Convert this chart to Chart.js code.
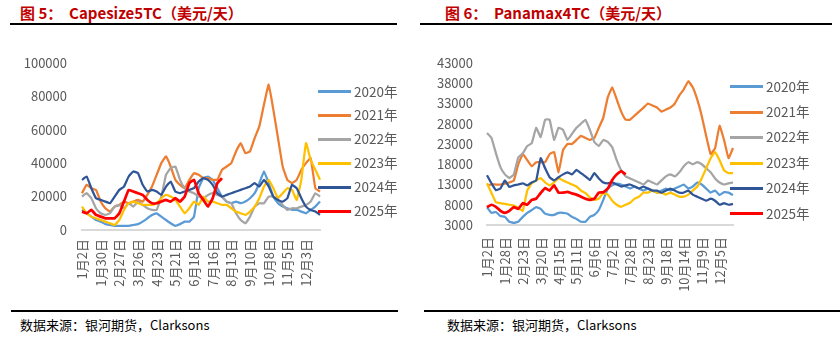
<!DOCTYPE html>
<html><head><meta charset="utf-8">
<script src="https://cdn.jsdelivr.net/npm/chart.js@4"></script>
<style>
body{margin:0;width:840px;height:337px;background:#fff;position:relative;overflow:hidden;font-family:"Noto Sans CJK SC","Noto Sans",sans-serif;}
.title{position:absolute;top:2px;font-size:15px;font-weight:bold;color:#C00000;white-space:pre;}
.rule{position:absolute;height:2px;background:#000;}
.src{position:absolute;top:315px;font-size:13px;color:#000;white-space:pre;}
.wrap{position:absolute;}
.lg{position:absolute;font-size:13.5px;color:#595959;white-space:nowrap;height:20px;line-height:20px;}
.lg span{display:inline-block;width:33px;height:3px;vertical-align:middle;margin-right:3px;position:relative;top:-1px;}
</style></head>
<body>
<div class="title" style="left:20px">图 5：  Capesize5TC（美元/天）</div>
<div class="rule" style="left:10px;width:387px;top:23px"></div>
<div class="title" style="left:445px">图 6：  Panamax4TC（美元/天）</div>
<div class="rule" style="left:420px;width:412px;top:23px"></div>
<div class="wrap" style="left:0;top:40px;width:324px;height:270px"><canvas id="c5"></canvas></div>
<div class="wrap" style="left:420px;top:40px;width:320px;height:270px"><canvas id="c6"></canvas></div>
<div id="lg5"></div><div id="lg6"></div>
<div class="rule" style="left:11px;width:387px;top:310px;height:1.5px"></div>
<div class="rule" style="left:424px;width:416px;top:310px;height:1.5px"></div>
<div class="src" style="left:20px">数据来源：银河期货，Clarksons</div>
<div class="src" style="left:447px">数据来源：银河期货，Clarksons</div>
<script>
const seriesNames = ['2020年','2021年','2022年','2023年','2024年','2025年'];
const seriesColors = ['#5B9BD5','#ED7D31','#A5A5A5','#FFC000','#2F5597','#FF0000'];

// Capesize 5TC
const ticks5 = ['1月2日','1月30日','2月27日','3月26日','4月23日','5月21日','6月18日','7月16日','8月13日','9月10日','10月8日','11月5日','12月3日'];
const cape2020 = [12000,10000,8000,6000,5000,3500,3000,2500,2500,2500,2500,3000,3500,5000,7000,9000,10000,8000,6000,4000,2500,3500,5000,5000,8000,25000,31000,32000,30000,25000,20000,17000,16000,17000,16000,17000,19000,22000,28000,35000,28000,20000,16000,14000,13000,12000,12000,11000,10000,12000,14000,17000];
const cape2021 = [22000,27000,25000,24000,17000,13000,11000,14000,15000,17000,16000,17000,18000,17000,21000,26000,33000,40000,44000,38000,30000,27000,25000,30000,34000,33000,31000,31000,30000,30000,36000,38000,40000,47000,52000,46000,47000,55000,62000,75000,87000,72000,55000,38000,30000,28000,30000,36000,40000,43000,25000,23000];
const cape2022 = [20000,22000,19000,13000,10000,9000,10000,14000,15000,13000,16000,14000,17000,15000,13000,12000,12000,20000,33000,37000,38000,30000,25000,23000,22000,20000,19000,21000,22000,21000,20000,17000,16000,10000,6000,4000,8000,14000,16000,16000,20000,20000,18000,15000,12000,13000,13000,14000,15000,17000,22000,20000];
const cape2023 = [14000,10000,8000,7000,6000,5000,4000,3000,6000,12000,16000,17000,16000,15000,15000,15000,16000,19000,21000,20000,18000,14000,10000,13000,17000,15000,20000,17000,17000,16000,15000,15000,13000,11000,10000,9000,11000,14000,19000,26000,30000,25000,19000,22000,25000,24000,18000,30000,52000,42000,36000,30000];
const cape2024 = [30000,32000,25000,19000,18000,17000,16000,20000,24000,26000,32000,35000,34000,27000,23000,24000,23000,21000,26000,29000,23000,22000,23000,24000,25000,29000,31000,30000,27000,22000,20000,21000,22000,23000,24000,25000,26000,28000,26000,30000,26000,20000,18000,17000,19000,27000,25000,19000,14000,12000,11000,9000];
const cape2025 = [11000,10000,12000,9000,8000,7000,7000,7000,10000,17000,24000,23000,22000,21000,18000,16000,16000,17000,18000,17000,19000,17000,20000,28000,30000,22000,18000,14000,19000,28000,31000];

// Panamax 4TC
const ticks6 = ['1月2日','1月28日','2月23日','3月20日','4月15日','5月11日','6月6日','7月2日','7月28日','8月23日','9月18日','10月14日','11月9日','12月5日'];
const pana2020 = [7400,6000,6200,5200,5000,3800,3500,3800,5000,6000,6700,7400,7000,5800,5500,5500,6000,6000,5800,5000,4500,3800,3800,5000,5500,6700,9200,12000,12800,13200,13000,12500,12000,12500,12000,11500,12000,11500,11000,11500,12000,11500,12000,12500,13000,12000,12500,13500,13000,12000,11000,11500,10400,11100,11000,10400];
const pana2021 = [12800,13000,13000,13000,13200,13500,14000,18000,20500,19000,17500,18500,18500,18500,20500,21000,16000,21500,23000,23000,24000,25000,24500,24000,24500,27000,29500,34500,37000,34000,31000,29000,29000,30000,31000,32000,33000,32500,32000,31000,31500,32000,33000,35000,36500,38500,37000,34000,30000,25000,20500,22000,27500,24000,19500,22000];
const pana2022 = [25700,24500,20700,17300,15500,14600,15500,19700,20700,22500,23200,27000,24700,29000,29000,24000,27000,26500,24000,25500,27000,28000,29000,26500,23500,22500,24000,23500,22200,19000,16500,15000,14500,14000,13500,13000,14000,13500,13000,14000,15000,15500,15000,16000,17500,18500,18000,18500,18000,17000,16000,14500,13500,13000,13300,13500];
const pana2023 = [13300,10900,8600,8400,8200,8000,7800,7200,6500,11500,13300,14000,14600,13500,12800,13500,14600,14000,13500,13000,12500,11500,10900,9800,9200,9500,10900,10500,9000,8000,7500,8000,8500,9500,10000,11000,11000,11500,11000,11000,10500,11000,10500,10000,10000,10500,11500,12500,14500,17000,19500,21000,19000,16500,15800,15800];
const pana2024 = [15300,13300,11600,12000,14000,12400,12800,13000,13300,12800,13500,14000,19500,17000,14800,14000,14800,15500,16000,15500,16600,15800,15000,14100,15800,14500,13500,13300,13500,13000,12500,12800,13000,12500,12000,12500,12000,11500,11500,11000,11500,12000,11500,11000,11000,11500,10500,10000,9500,9000,9500,9000,8000,8400,8000,8200];
const pana2025 = [7400,8000,7500,6500,6000,6500,7400,7000,8400,8000,9200,9500,10900,12100,11500,12800,11000,11000,11200,10800,10500,10000,9500,9200,9500,11000,11100,12000,14100,15500,16300,15500];

const pointsPerTick = 4;
function buildCategories(tickLabels){
  const out = [];
  tickLabels.forEach(t => { out.push(t); for(let k=1;k<pointsPerTick;k++) out.push(''); });
  return out;
}

Chart.defaults.font.family = '"Noto Sans CJK SC","Noto Sans",sans-serif';
Chart.defaults.font.size = 13;
Chart.defaults.color = '#595959';

function makeChart(id, labels, seriesList, yMin, yMax, yStep, yWidth, yPad, xHeight, xPad, pad){
  const datasets = seriesList.map((d, i) => ({
    label: seriesNames[i], data: d, borderColor: seriesColors[i], backgroundColor: seriesColors[i],
    borderWidth: i === 5 ? 2.75 : 2.25, pointRadius: 0, tension: 0.1, fill: false, order: 5 - i
  }));
  return new Chart(document.getElementById(id), {
    type: 'line',
    data: { labels, datasets },
    options: {
      responsive: true, maintainAspectRatio: false, animation: false,
      layout: { padding: pad },
      plugins: { legend: { display: false }, tooltip: { enabled: false } },
      scales: {
        x: {
          type: 'category', offset: false,
          grid: { display: false, drawTicks: false },
          border: { display: true, color: '#D9D9D9', width: 2 },
          ticks: { autoSkip: false, maxRotation: 90, minRotation: 90, padding: xPad, color: '#595959', font: { size: 13 } },
          afterFit: s => { s.height = xHeight; s.paddingLeft = 0; s.paddingRight = 0; }
        },
        y: {
          min: yMin, max: yMax,
          grid: { display: false, drawTicks: false },
          border: { display: false },
          ticks: { stepSize: yStep, padding: yPad, color: '#595959', font: { size: 13 }, callback: v => String(v) },
          afterFit: s => { s.width = yWidth; }
        }
      }
    }
  });
}

makeChart('c5', buildCategories(ticks5), [cape2020,cape2021,cape2022,cape2023,cape2024,cape2025],
  0, 100000, 10000, 82, 15, 80, 9, { top: 22, right: 4, left: 0, bottom: 0 });
makeChart('c6', buildCategories(ticks6), [pana2020,pana2021,pana2022,pana2023,pana2024,pana2025],
  3000, 43000, 5000, 67, 14, 85, 12, { top: 23, right: 7, left: 0, bottom: 0 });

function legend(id, lineX, startY, step){
  const host = document.getElementById(id);
  seriesNames.forEach((n, i) => {
    const d = document.createElement('div');
    d.className = 'lg';
    d.style.left = lineX + 'px';
    d.style.top = (startY + i * step - 10) + 'px';
    d.innerHTML = '<span style="background:' + seriesColors[i] + '"></span>' + n;
    host.appendChild(d);
  });
}
legend('lg5', 318, 90.5, 23.9);
legend('lg6', 730, 85.5, 25.4);
</script>
</body></html>
